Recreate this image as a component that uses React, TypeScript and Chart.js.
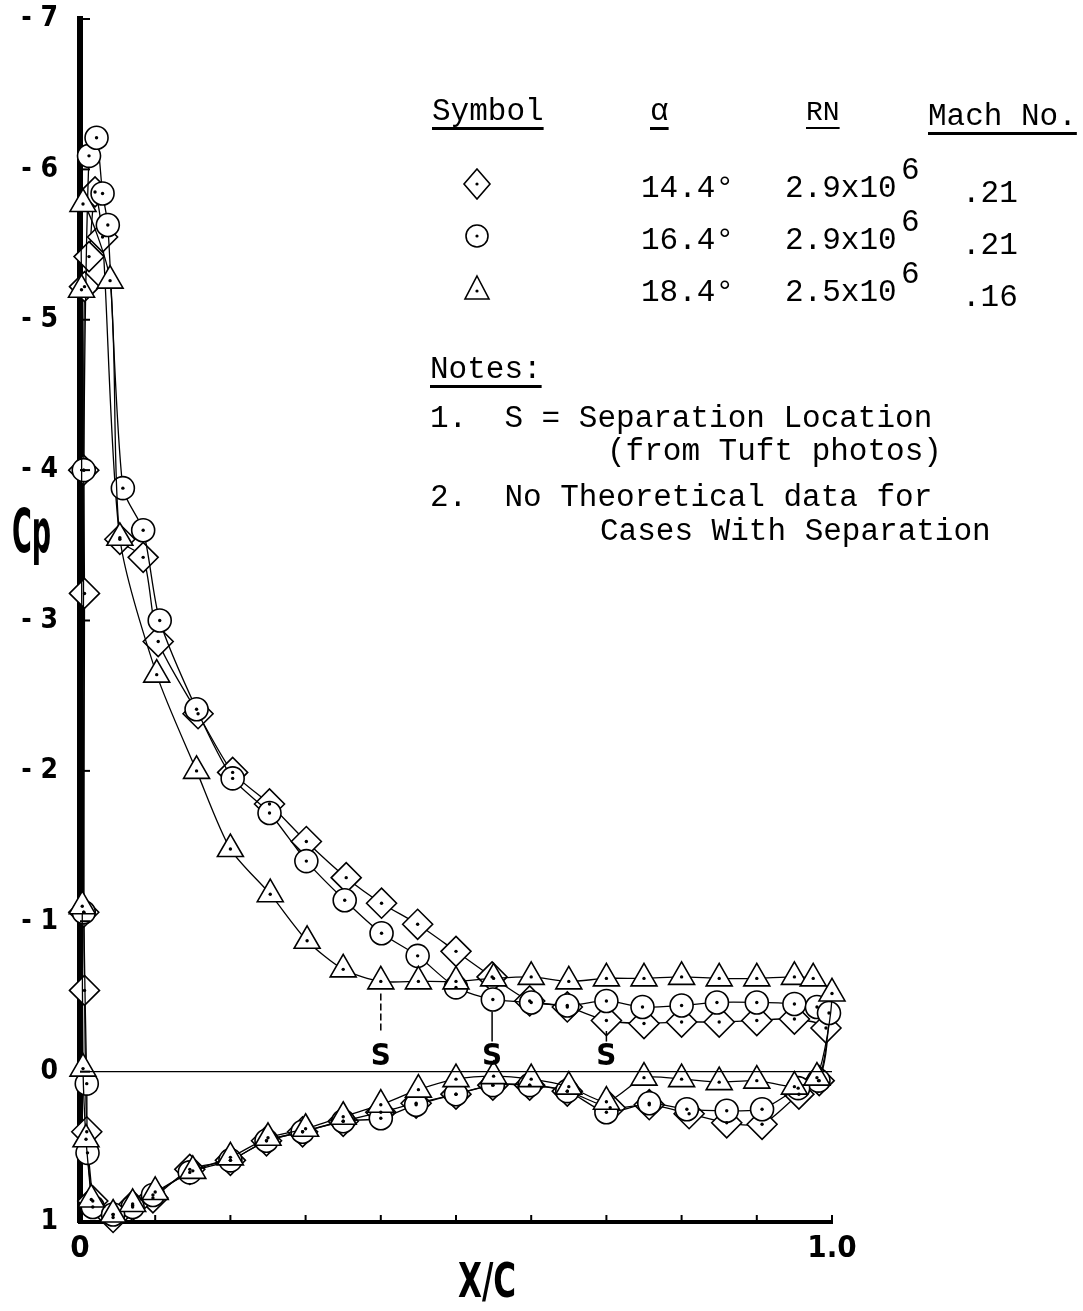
import React, { useEffect, useRef } from 'react';
import { Chart, registerables } from 'chart.js';

Chart.register(...registerables);

// ---------- data ----------
// 14.4 deg (diamond): stagnation -> nose -> upper surface -> TE -> lower surface
const diamondX = [0.017, 0.009, 0.006, 0.005, 0.006, 0.005, 0.006, 0.012, 0.02, 0.03, 0.053, 0.084, 0.104, 0.157, 0.203, 0.252, 0.301, 0.354, 0.401, 0.449, 0.5, 0.548, 0.598, 0.648, 0.7, 0.75, 0.8, 0.85, 0.9, 0.95, 0.992, 0.983, 0.956, 0.907, 0.86, 0.81, 0.757, 0.705, 0.648, 0.598, 0.549, 0.5, 0.447, 0.4, 0.35, 0.296, 0.248, 0.2, 0.146, 0.097, 0.07, 0.044];
const diamondCp = [0.86, 0.4, -0.54, -1.06, -3.18, -4.0, -5.22, -5.42, -5.85, -5.55, -3.54, -3.42, -2.86, -2.38, -1.99, -1.78, -1.53, -1.29, -1.12, -0.98, -0.8, -0.63, -0.47, -0.43, -0.34, -0.32, -0.33, -0.33, -0.34, -0.35, -0.29, 0.06, 0.15, 0.35, 0.34, 0.28, 0.22, 0.24, 0.13, 0.09, 0.09, 0.15, 0.21, 0.27, 0.33, 0.4, 0.46, 0.59, 0.65, 0.84, 0.89, 0.97];

// 16.4 deg (circle)
const circleX = [0.017, 0.01, 0.009, 0.005, 0.005, 0.012, 0.022, 0.03, 0.037, 0.057, 0.084, 0.106, 0.155, 0.203, 0.252, 0.301, 0.352, 0.401, 0.449, 0.5, 0.549, 0.6, 0.648, 0.7, 0.748, 0.8, 0.847, 0.9, 0.95, 0.98, 0.996, 0.982, 0.955, 0.907, 0.86, 0.807, 0.757, 0.7, 0.648, 0.598, 0.549, 0.5, 0.447, 0.4, 0.35, 0.296, 0.248, 0.2, 0.146, 0.097, 0.07, 0.044];
const circleCp = [0.9, 0.54, 0.08, -1.06, -4.0, -6.09, -6.21, -5.84, -5.63, -3.88, -3.6, -3.0, -2.41, -1.95, -1.72, -1.4, -1.14, -0.92, -0.77, -0.56, -0.48, -0.46, -0.44, -0.47, -0.43, -0.44, -0.46, -0.46, -0.45, -0.43, -0.39, 0.06, 0.11, 0.25, 0.26, 0.25, 0.21, 0.27, 0.13, 0.09, 0.09, 0.15, 0.22, 0.31, 0.33, 0.4, 0.46, 0.59, 0.67, 0.82, 0.9, 0.95];

// 18.4 deg (triangle)
const triangleX = [0.015, 0.008, 0.004, 0.003, 0.002, 0.004, 0.04, 0.053, 0.102, 0.155, 0.2, 0.253, 0.302, 0.35, 0.4, 0.45, 0.5, 0.55, 0.6, 0.65, 0.7, 0.75, 0.8, 0.85, 0.9, 0.95, 0.975, 1.0, 0.98, 0.95, 0.9, 0.85, 0.8, 0.75, 0.7, 0.65, 0.6, 0.55, 0.5, 0.45, 0.4, 0.35, 0.3, 0.25, 0.2, 0.15, 0.1, 0.07, 0.044];
const triangleCp = [0.85, 0.45, -0.02, -1.1, -5.2, -5.77, -5.26, -3.55, -2.64, -2.0, -1.48, -1.18, -0.87, -0.68, -0.6, -0.6, -0.6, -0.62, -0.63, -0.6, -0.62, -0.62, -0.63, -0.62, -0.62, -0.63, -0.62, -0.52, 0.04, 0.1, 0.06, 0.07, 0.05, 0.04, 0.2, 0.1, 0.05, 0.03, 0.05, 0.12, 0.22, 0.3, 0.38, 0.44, 0.57, 0.66, 0.8, 0.88, 0.95];

// zero reference line
const zeroLineX = [0, 1];
const zeroLineCp = [0, 0];

// separation markers "S"
const sepX = [0.4, 0.548, 0.7];
const sepTopCp = [-0.52, -0.4, -0.27];
const sepBottomCp = [-0.26, -0.2, -0.2];
const sepLabelCp = [-0.1, -0.1, -0.1];
const sepDashed = [true, false, false];

// axes
const yTickValues = [-7, -6, -5, -4, -3, -2, -1, 0, 1];
const yTickLabels = ['- 7', '- 6', '- 5', '- 4', '- 3', '- 2', '- 1', '0', '1'];
const xMinorTicks = [0.1, 0.2, 0.3, 0.4, 0.5, 0.6, 0.7, 0.8, 0.9, 1.0];
const xLabelValues = [0, 1];
const xLabelTexts = ['0', '1.0'];

// legend rows
const legendAlpha = ['14.4°', '16.4°', '18.4°'];
const legendRN = ['2.9x10', '2.9x10', '2.5x10'];
const legendMach = ['.21', '.21', '.16'];

const pts = (xs: number[], ys: number[]) => xs.map((x, i) => ({ x, y: ys[i] }));

const MONO = '"Liberation Mono", "DejaVu Sans Mono", monospace';
const COND = '"DejaVu Sans Condensed", "DejaVu Sans", sans-serif';

const centerDots = {
  id: 'centerDots',
  afterDatasetsDraw(chart: any) {
    const ctx = chart.ctx;
    ctx.save();
    ctx.fillStyle = '#000';
    chart.data.datasets.forEach((ds: any, i: number) => {
      if (!ds.pointRadius) return;
      const meta = chart.getDatasetMeta(i);
      meta.data.forEach((el: any) => {
        ctx.beginPath();
        ctx.arc(el.x, el.y, 1.7, 0, Math.PI * 2);
        ctx.fill();
      });
    });
    ctx.restore();
  },
};

const separation = {
  id: 'separation',
  afterDatasetsDraw(chart: any) {
    const { x, y } = chart.scales;
    const ctx = chart.ctx;
    ctx.save();
    ctx.strokeStyle = '#000';
    ctx.fillStyle = '#000';
    ctx.lineWidth = 1.5;
    sepX.forEach((sx, i) => {
      const px = x.getPixelForValue(sx);
      ctx.setLineDash(sepDashed[i] ? [7, 3] : []);
      ctx.beginPath();
      ctx.moveTo(px, y.getPixelForValue(sepTopCp[i]));
      ctx.lineTo(px, y.getPixelForValue(sepBottomCp[i]));
      ctx.stroke();
      ctx.setLineDash([]);
      ctx.font = 'bold 31px ' + COND;
      ctx.textAlign = 'center';
      ctx.textBaseline = 'middle';
      ctx.fillText('S', px, y.getPixelForValue(sepLabelCp[i]));
    });
    ctx.restore();
  },
};

const innerTicks = {
  id: 'innerTicks',
  afterDraw(chart: any) {
    const { x, y } = chart.scales;
    const ctx = chart.ctx;
    const area = chart.chartArea;
    ctx.save();
    ctx.strokeStyle = '#000';
    ctx.lineWidth = 2;
    xMinorTicks.forEach((t) => {
      const px = x.getPixelForValue(t);
      ctx.beginPath();
      ctx.moveTo(px, area.bottom);
      ctx.lineTo(px, area.bottom - 7);
      ctx.stroke();
    });
    yTickValues.forEach((t) => {
      const py = y.getPixelForValue(t);
      ctx.beginPath();
      ctx.moveTo(area.left, py);
      ctx.lineTo(area.left + 10, py);
      ctx.stroke();
    });
    ctx.restore();
  },
};

function ChartCanvas() {
  const ref = useRef<HTMLCanvasElement | null>(null);
  useEffect(() => {
    if (!ref.current) return;
    const common = {
      showLine: true,
      borderColor: '#000',
      borderWidth: 1.3,
      backgroundColor: '#fff',
      pointBackgroundColor: '#fff',
      pointBorderColor: '#000',
      pointBorderWidth: 1.6,
      tension: 0.25,
      clip: false as any,
    };
    const chart = new Chart(ref.current, {
      type: 'scatter',
      data: {
        datasets: [
          {
            label: 'zero',
            data: pts(zeroLineX, zeroLineCp),
            showLine: true,
            borderColor: '#000',
            borderWidth: 1.3,
            pointRadius: 0,
            tension: 0,
          },
          { label: 'alpha 18.4', data: pts(triangleX, triangleCp), pointStyle: 'triangle', pointRadius: 15, ...common },
          { label: 'alpha 16.4', data: pts(circleX, circleCp), pointStyle: 'circle', pointRadius: 11.5, ...common },
          { label: 'alpha 14.4', data: pts(diamondX, diamondCp), pointStyle: 'rectRot', pointRadius: 15, ...common },
        ] as any,
      },
      options: {
        responsive: false,
        animation: false,
        layout: { padding: { left: 0, right: 251, top: 19, bottom: 0 } },
        plugins: { legend: { display: false }, tooltip: { enabled: false } },
        scales: {
          x: {
            type: 'linear',
            min: 0,
            max: 1,
            afterFit: (s: any) => { s.height = 89; s.paddingLeft = 0; s.paddingRight = 0; },
            grid: { display: false, drawTicks: false },
            border: { display: true, width: 4, color: '#000' },
            ticks: {
              stepSize: 0.1,
              autoSkip: false,
              maxRotation: 0,
              padding: 8,
              color: '#000',
              font: { family: COND, size: 31, weight: 'bold' },
              callback: (v: any) => {
                const k = xLabelValues.findIndex((t) => Math.abs(t - Number(v)) < 1e-9);
                return k >= 0 ? xLabelTexts[k] : '';
              },
            },
          },
          y: {
            type: 'linear',
            min: -7,
            max: 1,
            reverse: true,
            afterFit: (s: any) => { s.width = 80; s.paddingTop = 0; s.paddingBottom = 0; },
            grid: { display: false, drawTicks: false },
            border: { display: true, width: 6, color: '#000' },
            ticks: {
              stepSize: 1,
              autoSkip: false,
              padding: 22,
              color: '#000',
              font: { family: COND, size: 28, weight: 'bold' },
              callback: (v: any) => {
                const k = yTickValues.indexOf(Math.round(Number(v)));
                return k >= 0 ? yTickLabels[k] : '';
              },
            },
          },
        },
      } as any,
      plugins: [centerDots, separation, innerTicks],
    });
    return () => chart.destroy();
  }, []);
  return <canvas ref={ref} width={1083} height={1311} style={{ position: 'absolute', left: 0, top: 0 }} />;
}

const txt = (left: number, baseline: number, size = 31): React.CSSProperties => ({
  position: 'absolute',
  left,
  top: baseline - Math.round(size * 0.77),
  fontFamily: MONO,
  fontSize: size,
  lineHeight: 1,
  whiteSpace: 'pre',
  color: '#000',
});

function Symbol({ kind }: { kind: number }) {
  return (
    <svg width={32} height={34} viewBox="0 0 32 34">
      {kind === 0 && <polygon points="16,2 29,17 16,32 3,17" fill="#fff" stroke="#000" strokeWidth={1.6} />}
      {kind === 1 && <circle cx={16} cy={17} r={11} fill="#fff" stroke="#000" strokeWidth={1.6} />}
      {kind === 2 && <polygon points="16,5 28,28 4,28" fill="#fff" stroke="#000" strokeWidth={1.6} />}
      <circle cx={16} cy={kind === 2 ? 20 : 17} r={1.6} fill="#000" />
    </svg>
  );
}

export default function App() {
  const rowBase = [197, 249, 301];
  return (
    <div style={{ position: 'absolute', left: 0, top: 0, width: 1083, height: 1311, background: '#fff', overflow: 'hidden' }}>
      <ChartCanvas />
      {/* axis titles */}
      <div style={{ position: 'absolute', left: 12, top: 501, fontFamily: COND, fontWeight: 'bold', fontSize: 60, lineHeight: 1, transform: 'scaleX(0.5)', transformOrigin: 'left top', whiteSpace: 'pre' }}>
        Cp
      </div>
      <div style={{ position: 'absolute', left: 458, top: 1256, fontFamily: COND, fontWeight: 'bold', fontSize: 48, lineHeight: 1, transform: 'scaleX(0.72)', transformOrigin: 'left top' }}>
        X/C
      </div>
      {/* legend header */}
      <div style={{ ...txt(432, 120), textDecoration: 'underline', textUnderlineOffset: 7 }}>Symbol</div>
      <div style={{ ...txt(650, 120), textDecoration: 'underline', textUnderlineOffset: 7 }}>α</div>
      <div style={{ ...txt(806, 121, 28), textDecoration: 'underline', textUnderlineOffset: 7 }}>RN</div>
      <div style={{ ...txt(928, 125), textDecoration: 'underline', textUnderlineOffset: 7 }}>Mach No.</div>
      {legendAlpha.map((a, i) => (
        <React.Fragment key={i}>
          <div style={{ position: 'absolute', left: 461, top: rowBase[i] - 30 }}>
            <Symbol kind={i} />
          </div>
          <div style={txt(641, rowBase[i])}>{a}</div>
          <div style={txt(785, rowBase[i])}>{legendRN[i]}</div>
          <div style={txt(901, rowBase[i] - 18)}>6</div>
          <div style={txt(962, rowBase[i] + 5)}>{legendMach[i]}</div>
        </React.Fragment>
      ))}
      {/* notes */}
      <div style={{ ...txt(430, 378), textDecoration: 'underline', textUnderlineOffset: 7 }}>Notes:</div>
      <div style={txt(430, 427)}>{'1.  S = Separation Location'}</div>
      <div style={txt(607, 460)}>(from Tuft photos)</div>
      <div style={txt(430, 506)}>{'2.  No Theoretical data for'}</div>
      <div style={txt(600, 540)}>Cases With Separation</div>
    </div>
  );
}
